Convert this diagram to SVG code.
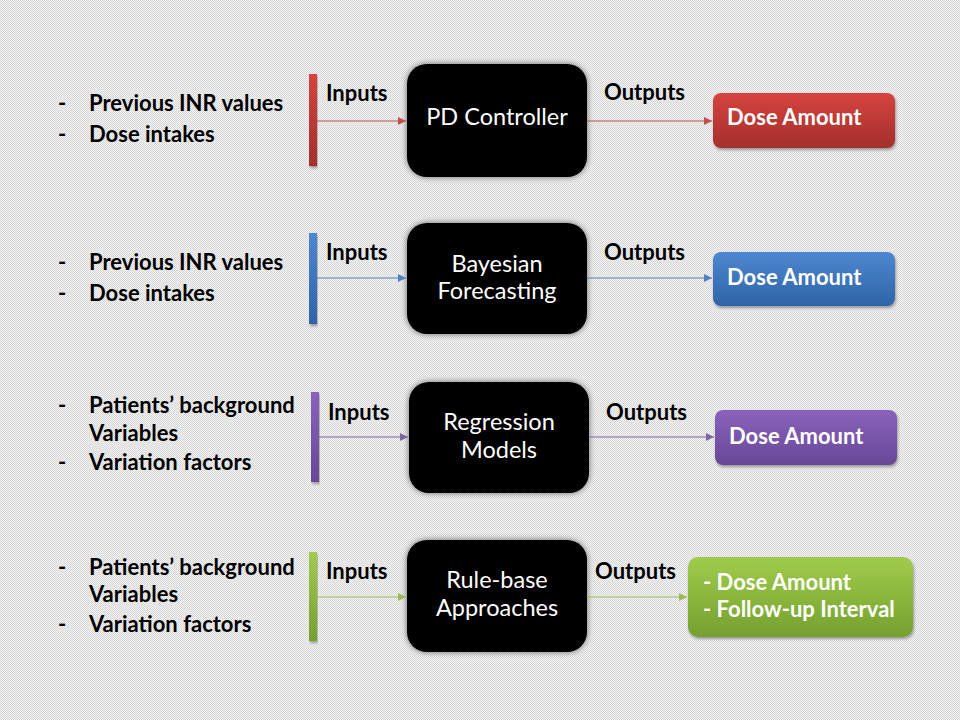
<svg xmlns="http://www.w3.org/2000/svg" width="960" height="720" viewBox="0 0 960 720">
<defs>
<pattern id="chk" width="2" height="2" patternUnits="userSpaceOnUse">
<rect width="2" height="2" fill="#f4f4f4"/>
<rect width="1" height="1" fill="#d6d6d6"/>
<rect x="1" y="1" width="1" height="1" fill="#d6d6d6"/>
</pattern>
<filter id="glow" x="-20%" y="-20%" width="140%" height="140%">
<feGaussianBlur in="SourceAlpha" stdDeviation="3"/>
<feComponentTransfer><feFuncA type="linear" slope="0.55"/></feComponentTransfer>
<feMerge><feMergeNode/><feMergeNode in="SourceGraphic"/></feMerge>
</filter>
<filter id="sh" x="-10%" y="-20%" width="120%" height="150%">
<feGaussianBlur in="SourceAlpha" stdDeviation="1.5"/>
<feOffset dx="1" dy="2"/>
<feComponentTransfer><feFuncA type="linear" slope="0.35"/></feComponentTransfer>
<feMerge><feMergeNode/><feMergeNode in="SourceGraphic"/></feMerge>
</filter>
<linearGradient id="gR" x1="0" y1="0" x2="0" y2="1"><stop offset="0" stop-color="#d6433f"/><stop offset="1" stop-color="#a42f2c"/></linearGradient>
<linearGradient id="gB" x1="0" y1="0" x2="0" y2="1"><stop offset="0" stop-color="#4d87d0"/><stop offset="1" stop-color="#2f64a6"/></linearGradient>
<linearGradient id="gP" x1="0" y1="0" x2="0" y2="1"><stop offset="0" stop-color="#8a62bc"/><stop offset="1" stop-color="#674896"/></linearGradient>
<linearGradient id="gG" x1="0" y1="0" x2="0" y2="1"><stop offset="0" stop-color="#a0cc4c"/><stop offset="1" stop-color="#75a02f"/></linearGradient>
<marker id="aR" viewBox="0 0 10 10" refX="10" refY="5" markerWidth="9" markerHeight="8" markerUnits="userSpaceOnUse" orient="auto"><path d="M0,0 L10,5 L0,10 z" fill="#c0504d"/></marker>
<marker id="aB" viewBox="0 0 10 10" refX="10" refY="5" markerWidth="9" markerHeight="8" markerUnits="userSpaceOnUse" orient="auto"><path d="M0,0 L10,5 L0,10 z" fill="#4f81bd"/></marker>
<marker id="aP" viewBox="0 0 10 10" refX="10" refY="5" markerWidth="9" markerHeight="8" markerUnits="userSpaceOnUse" orient="auto"><path d="M0,0 L10,5 L0,10 z" fill="#8064a2"/></marker>
<marker id="aG" viewBox="0 0 10 10" refX="10" refY="5" markerWidth="9" markerHeight="8" markerUnits="userSpaceOnUse" orient="auto"><path d="M0,0 L10,5 L0,10 z" fill="#9bbb59"/></marker>
</defs>
<style>
.lbl{font-family:Lato,"Liberation Sans",sans-serif;font-weight:bold;font-size:22px;fill:#000}
.box{fill:#000;filter:url(#glow)}
.bt{font-family:Lato,"Liberation Sans",sans-serif;font-size:23.5px;fill:#fff;text-anchor:middle}
.ot{font-family:Lato,"Liberation Sans",sans-serif;font-weight:bold;font-size:22px;fill:#fff}
.cn{fill:none;stroke-width:1.2}
</style>
<rect width="960" height="720" fill="url(#chk)"/>

<g id="row1-inputs">
<text class="lbl" x="58" y="111">-</text><text class="lbl" x="89" y="111">Previous INR values</text>
<text class="lbl" x="58" y="142">-</text><text class="lbl" x="89" y="142">Dose intakes</text>
<rect x="309" y="74" width="8" height="92" fill="url(#gR)" filter="url(#sh)"/>
<text class="lbl" x="326" y="101">Inputs</text>
</g>
<g id="row1-box"><rect class="box" x="407" y="64" width="180" height="113" rx="20"/><text class="bt" x="497" y="125">PD Controller</text></g>
<g id="row1-out"><text class="lbl" x="604" y="100">Outputs</text>
<rect x="713" y="93" width="182" height="55" rx="8" fill="url(#gR)" filter="url(#sh)"/><text class="ot" x="727" y="125">Dose Amount</text></g>

<g id="row2-inputs">
<text class="lbl" x="58" y="270">-</text><text class="lbl" x="89" y="270">Previous INR values</text>
<text class="lbl" x="58" y="301">-</text><text class="lbl" x="89" y="301">Dose intakes</text>
<rect x="309" y="233" width="8" height="91" fill="url(#gB)" filter="url(#sh)"/>
<text class="lbl" x="326" y="260">Inputs</text>
</g>
<g id="row2-box"><rect class="box" x="407" y="223" width="180" height="111" rx="20"/><text class="bt" x="497" y="272">Bayesian</text><text class="bt" x="497" y="299">Forecasting</text></g>
<g id="row2-out"><text class="lbl" x="604" y="260">Outputs</text>
<rect x="713" y="252" width="182" height="54" rx="8" fill="url(#gB)" filter="url(#sh)"/><text class="ot" x="727" y="285">Dose Amount</text></g>

<g id="row3-inputs">
<text class="lbl" x="58" y="413">-</text><text class="lbl" x="89" y="413">Patients’ background</text>
<text class="lbl" x="89" y="441">Variables</text>
<text class="lbl" x="58" y="470">-</text><text class="lbl" x="89" y="470">Variation factors</text>
<rect x="311" y="392" width="8" height="90" fill="url(#gP)" filter="url(#sh)"/>
<text class="lbl" x="328" y="420">Inputs</text>
</g>
<g id="row3-box"><rect class="box" x="409" y="382" width="180" height="111" rx="20"/><text class="bt" x="499" y="430">Regression</text><text class="bt" x="499" y="458">Models</text></g>
<g id="row3-out"><text class="lbl" x="606" y="420">Outputs</text>
<rect x="715" y="410" width="182" height="55" rx="8" fill="url(#gP)" filter="url(#sh)"/><text class="ot" x="729" y="444">Dose Amount</text></g>

<g id="row4-inputs">
<text class="lbl" x="58" y="575">-</text><text class="lbl" x="89" y="575">Patients’ background</text>
<text class="lbl" x="89" y="602">Variables</text>
<text class="lbl" x="58" y="632">-</text><text class="lbl" x="89" y="632">Variation factors</text>
<rect x="309" y="552" width="8" height="89" fill="url(#gG)" filter="url(#sh)"/>
<text class="lbl" x="326" y="579">Inputs</text>
</g>
<g id="row4-box"><rect class="box" x="407" y="540" width="180" height="112" rx="20"/><text class="bt" x="497" y="588">Rule-base</text><text class="bt" x="497" y="616">Approaches</text></g>
<g id="row4-out"><text class="lbl" x="595" y="579">Outputs</text>
<rect x="688" y="557" width="225" height="80" rx="10" fill="url(#gG)" filter="url(#sh)"/><text class="ot" x="703" y="590">- Dose Amount</text><text class="ot" x="703" y="617">- Follow-up Interval</text></g>

<g id="connectors">
<line class="cn" x1="317" y1="121" x2="406" y2="121" stroke="#c0504d" marker-end="url(#aR)"/>
<line class="cn" x1="587" y1="121" x2="712" y2="121" stroke="#c0504d" marker-end="url(#aR)"/>
<line class="cn" x1="317" y1="278" x2="406" y2="278" stroke="#4f81bd" marker-end="url(#aB)"/>
<line class="cn" x1="587" y1="278" x2="712" y2="278" stroke="#4f81bd" marker-end="url(#aB)"/>
<line class="cn" x1="319" y1="437" x2="408" y2="437" stroke="#8064a2" marker-end="url(#aP)"/>
<line class="cn" x1="589" y1="437" x2="714" y2="437" stroke="#8064a2" marker-end="url(#aP)"/>
<line class="cn" x1="317" y1="597" x2="406" y2="597" stroke="#9bbb59" marker-end="url(#aG)"/>
<line class="cn" x1="587" y1="597" x2="687" y2="597" stroke="#9bbb59" marker-end="url(#aG)"/>
</g>
</svg>
